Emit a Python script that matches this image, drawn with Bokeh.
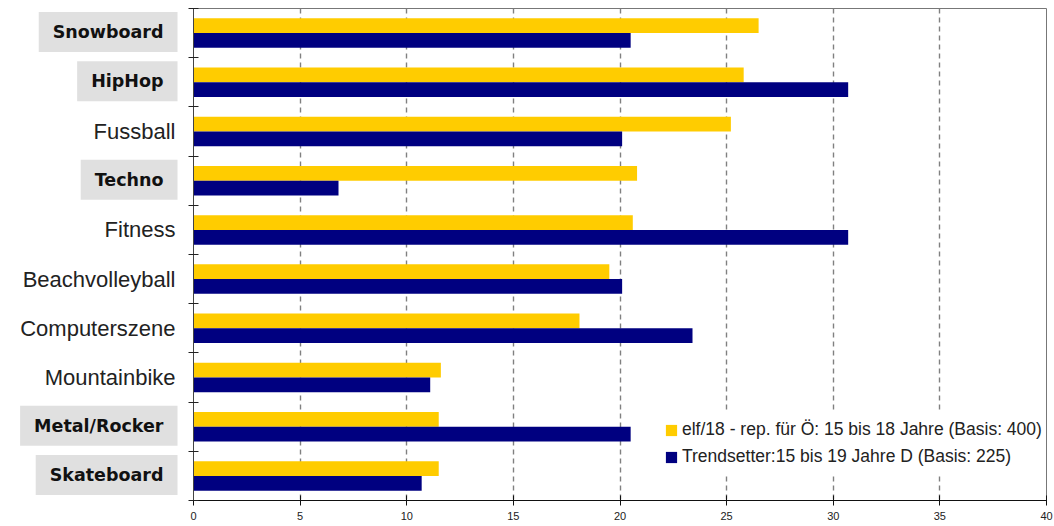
from bokeh.plotting import figure
from bokeh.layouts import row
from bokeh.models import (Range1d, FixedTicker, Label, Legend, LegendItem,
                          ColumnDataSource)
from bokeh.transform import dodge
from bokeh.embed import file_html
from bokeh.resources import INLINE

# Scene / activity categories, top to bottom
categories = ["Snowboard", "HipHop", "Fussball", "Techno", "Fitness",
              "Beachvolleyball", "Computerszene", "Mountainbike",
              "Metal/Rocker", "Skateboard"]
# Categories shown with a grey label box
highlighted = [True, True, False, True, False, False, False, False, True, True]

# Share in percent for the two surveys
elf18 = [26.5, 25.8, 25.2, 20.8, 20.6, 19.5, 18.1, 11.6, 11.5, 11.5]
trendsetter = [20.5, 30.7, 20.1, 6.8, 30.7, 20.1, 23.4, 11.1, 20.5, 10.7]

series_labels = ["elf/18 - rep. für Ö: 15 bis 18 Jahre (Basis: 400)",
                 "Trendsetter:15 bis 19 Jahre D (Basis: 225)"]

x_ticks = [0, 5, 10, 15, 20, 25, 30, 35, 40]

YELLOW = "#FFCC00"
NAVY = "#000080"

n = len(categories)
centers = [i + 0.5 for i in range(n)]
bounds = list(range(n + 1))

TOP, BOTTOM = 8, 26
LABEL_W = 178          # width of the label column
GAP = 15               # space between label column and plot frame

src = ColumnDataSource(dict(cat=categories, pos=centers,
                            elf=elf18, trend=trendsetter))

y_range = Range1d(n, 0)

# ---- main bar chart ----
p = figure(width=1054 - LABEL_W, height=526,
           x_range=Range1d(x_ticks[0], x_ticks[-1]), y_range=y_range,
           output_backend="svg", toolbar_location=None,
           min_border_left=GAP, min_border_right=8,
           min_border_top=TOP, min_border_bottom=BOTTOM)
p.background_fill_color = "white"
p.border_fill_color = "white"
p.outline_line_color = "#777777"
p.outline_line_width = 1

bar_h = 0.3
r_elf = p.hbar(y=dodge("pos", -0.15), right="elf", left=0, height=bar_h,
               source=src, fill_color=YELLOW, line_color=None)
r_trend = p.hbar(y=dodge("pos", 0.15), right="trend", left=0, height=bar_h,
                 source=src, fill_color=NAVY, line_color=None)

# x axis: ticks crossing the axis line
xa = p.xaxis[0]
xa.ticker = FixedTicker(ticks=x_ticks)
xa.major_tick_in = 5
xa.major_tick_out = 5
xa.minor_tick_line_color = None
xa.axis_line_color = "#111111"
xa.major_tick_line_color = "#111111"
xa.major_label_text_font = "Liberation Sans"
xa.major_label_text_font_size = "11px"
xa.major_label_text_color = "#222222"
xa.major_label_standoff = 6

# y axis: only separator ticks between categories
ya = p.yaxis[0]
ya.ticker = FixedTicker(ticks=[], minor_ticks=bounds)
ya.minor_tick_in = 5
ya.minor_tick_out = 5
ya.minor_tick_line_color = "#222222"
ya.axis_line_color = "#444444"
ya.major_tick_line_color = None

p.xgrid.ticker = FixedTicker(ticks=x_ticks[1:-1])
p.xgrid.grid_line_color = "#808080"
p.xgrid.grid_line_dash = "5 4"
p.xgrid.grid_line_width = 1.4
p.ygrid.visible = False

legend = Legend(items=[LegendItem(label=series_labels[0], renderers=[r_elf]),
                       LegendItem(label=series_labels[1], renderers=[r_trend])],
                location=(465, 27))
legend.background_fill_color = "white"
legend.background_fill_alpha = 1
legend.border_line_alpha = 0
legend.label_text_font = "Liberation Sans"
legend.label_text_font_size = "17.5px"
legend.label_text_color = "#222222"
legend.glyph_width = 14
legend.glyph_height = 14
legend.label_standoff = 4
legend.label_height = 17
legend.spacing = 6
legend.padding = 6
legend.margin = 0
p.add_layout(legend)

# ---- category label column ----
lab_fig = figure(width=LABEL_W, height=526,
                 x_range=Range1d(0, LABEL_W), y_range=y_range,
                 output_backend="svg", toolbar_location=None,
                 min_border_left=0, min_border_right=0,
                 min_border_top=TOP, min_border_bottom=BOTTOM)
lab_fig.axis.visible = False
lab_fig.grid.visible = False
lab_fig.outline_line_color = None
lab_fig.background_fill_color = "white"
lab_fig.border_fill_color = "white"

for name, c, hl in zip(categories, centers, highlighted):
    if hl:
        lab = Label(x=177, y=c, text=name, y_offset=1,
                    text_align="right", text_baseline="middle",
                    text_font="DejaVu Sans", text_font_style="bold",
                    text_font_size="17.5px", text_color="#111111",
                    background_fill_color="#E0E0E0", padding=(14, 10))
    else:
        lab = Label(x=175, y=c, text=name,
                    text_align="right", text_baseline="middle",
                    text_font="Liberation Sans", text_font_size="22px",
                    text_color="#222222")
    lab_fig.add_layout(lab)

layout = row(lab_fig, p)
open("out.html", "w").write(file_html(layout, INLINE))
